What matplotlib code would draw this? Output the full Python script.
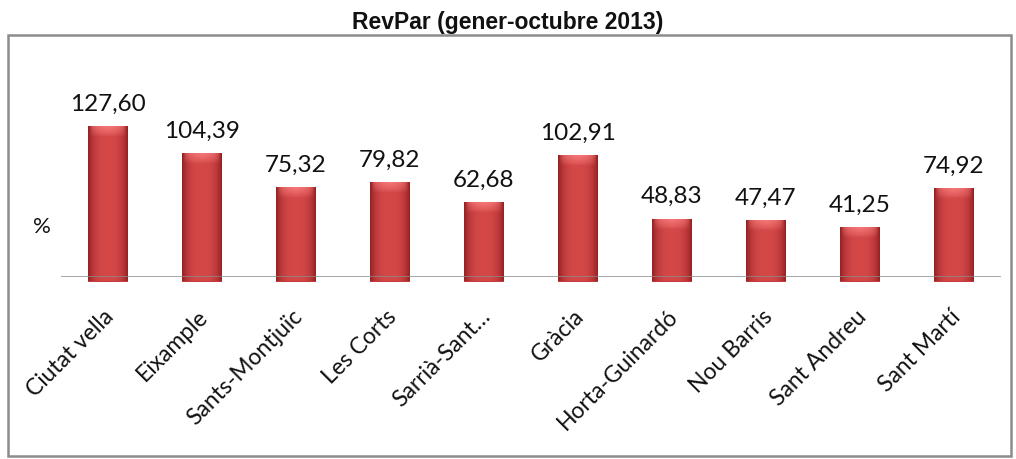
import numpy as np
import matplotlib
matplotlib.use("Agg")
import matplotlib.pyplot as plt
from matplotlib.patches import Rectangle

categories = ["Ciutat vella", "Eixample", "Sants-Montjuïc", "Les Corts", "Sarrià-Sant…",
              "Gràcia", "Horta-Guinardó", "Nou Barris", "Sant Andreu", "Sant Martí"]
values = [127.60, 104.39, 75.32, 79.82, 62.68, 102.91, 48.83, 47.47, 41.25, 74.92]
value_labels = ["127,60", "104,39", "75,32", "79,82", "62,68", "102,91", "48,83", "47,47", "41,25", "74,92"]
title = "RevPar (gener-octubre 2013)"
ylabel = "%"

W, H = 1016, 459
fig = plt.figure(figsize=(W / 100, H / 100), dpi=100)

# outer border box
fig.patches.append(Rectangle((8 / W, 3 / H), (1011 - 8) / W, (424 - 3) / H, transform=fig.transFigure,
                             fill=False, edgecolor="#8c8c8c", linewidth=1.8))
fig.text(0.5, 1 - 22 / H, title, ha="center", va="center", fontsize=16.5, fontweight="bold",
         family="Liberation Sans", color="#111111")

px_per_unit = 1.176
ytop = 140
left, right, base = 61, 1001, 277
ax = fig.add_axes([left / W, (H - base) / H, (right - left) / W, ytop * px_per_unit / H])
ax.set_xlim(-0.5, len(categories) - 0.5)
ax.set_ylim(0, ytop)
ax.axis("off")

x = np.arange(len(categories))
vals = np.array(values)
width = 40 / 94.0
below = 4.5 / px_per_unit

# gradient image for bars
ncol, nrow = 60, 200
tx = np.linspace(-1, 1, ncol)
shade = np.abs(tx) ** 3
center = np.array([0.83, 0.28, 0.28])
edge = np.array([0.58, 0.13, 0.14])
row_img = center[None, :] * (1 - shade[:, None]) + edge[None, :] * shade[:, None]

bars = ax.bar(x, vals + below, width, bottom=-below, color="#c63c3e", zorder=2, clip_on=False)
for xi, v, b, vl in zip(x, vals, bars, value_labels):
    hpx = (v + below) * px_per_unit
    img = np.repeat(row_img[None, :, :], nrow, axis=0).copy()
    ty = np.linspace(0, 1, nrow)[:, None]  # 0 = top
    cap_px = 10
    cap = np.clip(1 - ty * hpx / cap_px, 0, 1) ** 0.7
    capw = np.clip(1 - np.abs(tx) * 1.1, 0, 1)[None, :] ** 0.4
    light = np.array([0.96, 0.47, 0.47])
    a = (cap * capw)[:, :, None]
    img = img * (1 - a) + light[None, None, :] * a
    im = ax.imshow(img, extent=(xi - width / 2, xi + width / 2, -below, v), aspect="auto",
                   zorder=3, interpolation="bilinear", clip_on=False)
    im.set_clip_path(b)
    ax.text(xi, v + 14, vl, ha="center", va="baseline",
            fontsize=17.5, family="Lato", color="#111111")

ax.axhline(0, xmin=0, xmax=1, color="#8c8c8c", linewidth=1.8, zorder=5)

for xi, lab in zip(x, categories):
    ax.text(xi + 0.03, -31, lab, rotation=45, rotation_mode="anchor", ha="right", va="center",
            fontsize=16.5, family="Lato", color="#111111")

fig.text(42 / W, 1 - 227 / H, ylabel, ha="center", va="center", fontsize=16, family="Lato",
         color="#111111")

fig.savefig("out.png", dpi=100)
